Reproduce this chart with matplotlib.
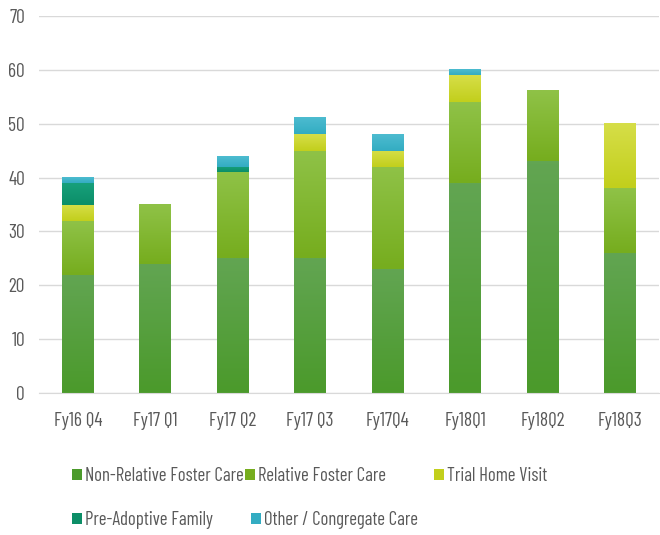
import matplotlib
matplotlib.use("Agg")
import matplotlib.pyplot as plt
import numpy as np
from matplotlib.colors import LinearSegmentedColormap
from matplotlib.patches import Patch

plt.rcParams['font.family'] = ['Barlow Condensed', 'Liberation Sans Narrow', 'DejaVu Sans']

categories = ["Fy16 Q4", "Fy17 Q1", "Fy17 Q2", "Fy17 Q3", "Fy17Q4", "Fy18Q1", "Fy18Q2", "Fy18Q3"]
non_relative = [22, 24, 25, 25, 23, 39, 43, 26]
relative = [10, 11, 16, 20, 19, 15, 13, 12]
trial_home = [3, 0, 0, 3, 3, 5, 0, 12]
pre_adoptive = [4, 0, 1, 0, 0, 0, 0, 0]
other_congregate = [1, 0, 2, 3, 3, 1, 0, 0]
y_ticks = [0, 10, 20, 30, 40, 50, 60, 70]

series = [
    ("Non-Relative Foster Care", non_relative, "#4b9a2b", "#62a552"),
    ("Relative Foster Care", relative, "#76ad1e", "#8fc247"),
    ("Trial Home Visit", trial_home, "#c2cf1c", "#d6de48"),
    ("Pre-Adoptive Family", pre_adoptive, "#0c8e67", "#17a07c"),
    ("Other / Congregate Care", other_congregate, "#33acc2", "#4dbcd0"),
]

fig = plt.figure(figsize=(6.6, 5.35), dpi=100)
ax = fig.add_axes([39/660, 1-393/535, 620/660, (393-16)/535])

x = np.arange(len(categories))
bottom = np.zeros(len(categories))
handles = []
for name, vals, c_bot, c_top in series:
    vals = np.array(vals, dtype=float)
    bars = ax.bar(x, vals, 0.41, bottom=bottom, color=c_bot, zorder=2, linewidth=0)
    cmap = LinearSegmentedColormap.from_list(name, [c_bot, c_top])
    grad = np.linspace(0, 1, 64).reshape(-1, 1)
    for b in bars:
        if b.get_height() <= 0:
            continue
        x0, y0 = b.get_x(), b.get_y()
        ax.imshow(grad, cmap=cmap, origin='lower', aspect='auto',
                  extent=(x0, x0 + b.get_width(), y0, y0 + b.get_height()),
                  zorder=3, interpolation='bilinear')
    handles.append(Patch(facecolor=c_bot, label=name))
    bottom += vals

ax.set_xlim(-0.5, len(categories) - 0.5)
ax.set_ylim(0, 70)
ax.set_yticks(y_ticks)
ax.set_xticks(x)
ax.set_xticklabels(categories)
ax.tick_params(axis='both', length=0, labelsize=14, colors='#595959')
ax.tick_params(axis='x', pad=14)
ax.tick_params(axis='y', pad=10)
ax.yaxis.grid(True, color='#d9d9d9', linewidth=1.0, zorder=0)
ax.set_axisbelow(True)
for s in ['top', 'right', 'left']:
    ax.spines[s].set_visible(False)
ax.spines['bottom'].set_color('#d9d9d9')
ax.spines['bottom'].set_zorder(4)

leg_pos = [(72, 476), (245, 476), (434, 476), (72, 520), (251, 520)]
for h, (px, py) in zip(handles, leg_pos):
    lg = fig.legend(handles=[h], loc='center left', bbox_to_anchor=(px/660, 1-py/535),
                    frameon=False, fontsize=13.5, handlelength=0.52, handleheight=0.52,
                    handletextpad=0.15, borderpad=0, borderaxespad=0)
    for t in lg.get_texts():
        t.set_color('#595959')

fig.savefig("out.png", dpi=100)
